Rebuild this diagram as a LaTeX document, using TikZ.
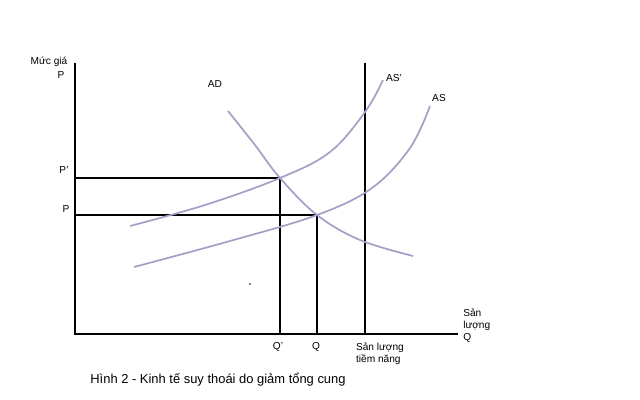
\documentclass[tikz,border=0pt]{standalone}
\usepackage{fontspec}
\setmainfont{Liberation Sans}
\begin{document}
\begin{tikzpicture}[x=0.75pt,y=-0.75pt,
  axis/.style={line width=1.7pt,black},
  guide/.style={line width=1.6pt,black},
  curve/.style={line width=1.3pt,color=curvecol},
  lbl/.style={font=\fontsize{7.6pt}{9pt}\selectfont,inner sep=0pt,align=center},
  captxt/.style={font=\fontsize{9.7pt}{11pt}\selectfont,inner sep=0pt}]
\definecolor{curvecol}{RGB}{168,158,200}
\useasboundingbox (0,0) rectangle (640,400);
% axes
\coordinate (O) at (75,334);
\coordinate (Ytop) at (75,63);
\coordinate (Xend) at (458,334);
\draw[axis] (Ytop) -- (O) -- (Xend);
% potential output
\coordinate (Ptop) at (365,63);
\coordinate (Pbot) at (365,334);
\draw[axis] (Ptop) -- (Pbot);
% equilibria
\coordinate (E1) at (280,178);
\coordinate (E2) at (317,215);
\coordinate (Y1) at (75,178);
\coordinate (Y2) at (75,215);
\coordinate (X1) at (280,334);
\coordinate (X2) at (317,334);
\draw[guide] (Y1) -- (E1) -- (X1);
\draw[guide] (Y2) -- (E2) -- (X2);
% curves
\draw[curve] plot[smooth,tension=0.6] coordinates {(130,226) (205,205) (280,178) (330,152) (365,112) (383,80)};
\draw[curve] plot[smooth,tension=0.6] coordinates {(134,267) (230,241) (317,215) (372,188) (410,148) (430,106)};
\draw[curve] plot[smooth,tension=0.6] coordinates {(228,111) (255,145) (280,178) (317,215) (360,240) (413,256)};
% labels
\node[lbl] (mg) at (49,62) {Mức giá};
\node[lbl] (pa) at (61,75) {P};
\node[lbl] (pp) at (64,170) {P'};
\node[lbl] (p) at (66,209) {P};
\node[lbl] (ad) at (215,84) {AD};
\node[lbl] (asp) at (394,78) {AS'};
\node[lbl] (as) at (439,98) {AS};
\node[lbl] (qp) at (278,347) {Q'};
\node[lbl] (q) at (316,347) {Q};
\node[lbl,align=left] (sltn) at (380,354) {Sản lượng\\tiềm năng};
\node[lbl,align=left,anchor=west] (slq) at (463,326) {Sản\\lượng\\Q};
\node[captxt] (caption) at (218,380) {Hình 2 - Kinh tế suy thoái do giảm tổng cung};
\fill (250,284) circle (0.8);
\end{tikzpicture}
\end{document}
